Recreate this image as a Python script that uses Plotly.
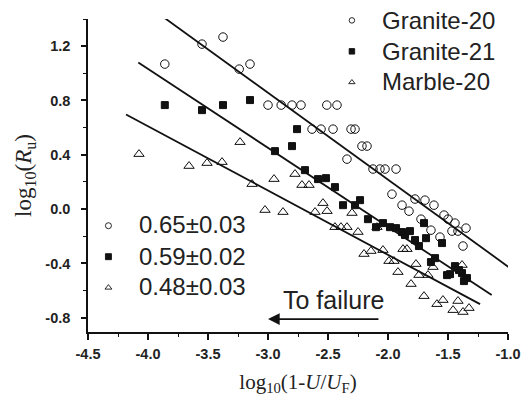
import plotly.graph_objects as go

# ---------------- data ----------------
g20_x = [-3.86, -3.55, -3.375, -3.24, -3.15, -3.0, -2.89, -2.8, -2.725, -2.51, -2.425,
         -2.633, -2.558, -2.458, -2.308, -2.275, -2.217, -2.175, -2.342, -2.125, -2.067,
         -2.025, -1.933, -1.967, -1.883, -1.825, -1.775, -1.692, -1.617, -1.533, -1.5,
         -1.725, -1.442, -1.35, -1.642, -1.467, -1.417, -1.567, -1.375]
g20_y = [1.068, 1.215, 1.267, 1.031, 1.068, 0.766, 0.766, 0.766, 0.766, 0.766, 0.766,
         0.589, 0.589, 0.589, 0.589, 0.589, 0.464, 0.464, 0.368, 0.295, 0.295,
         0.295, 0.295, 0.110, 0.029, -0.015, 0.074, 0.066, 0.029, -0.044, -0.074,
         -0.074, -0.103, -0.140, -0.155, -0.162, -0.162, -0.206, -0.272]

g21_x = [-3.86, -3.55, -3.375, -3.15, -2.758, -2.942, -2.8, -2.692, -2.583, -2.517,
         -2.442, -2.375, -2.233, -2.275, -2.167, -2.1, -2.042, -1.983, -1.933, -1.883,
         -1.858, -1.817, -1.775, -1.742, -1.7, -1.683, -1.55, -1.642, -1.608, -1.508,
         -1.483, -1.442, -1.408, -1.383, -1.342, -1.367]
g21_y = [0.766, 0.729, 0.766, 0.803, 0.589, 0.427, 0.464, 0.287, 0.221, 0.228,
         0.162, 0.029, 0.066, 0.029, -0.074, -0.133, -0.103, -0.133, -0.140, -0.169,
         -0.191, -0.162, -0.228, -0.272, -0.103, -0.214, -0.250, -0.390, -0.361, -0.486,
         -0.479, -0.420, -0.449, -0.471, -0.508, -0.530]

m20_x = [-4.075, -3.658, -3.508, -3.383, -3.233, -3.133, -2.95, -2.775, -3.025, -2.875,
         -2.717, -2.658, -2.542, -2.608, -2.508, -2.3, -2.442, -2.392, -2.342, -2.25,
         -2.092, -2.2, -2.142, -2.042, -1.992, -1.95, -1.875, -1.842, -1.917, -1.767,
         -1.625, -1.742, -1.667, -1.808, -1.383, -1.7, -1.592, -1.542, -1.417, -1.458,
         -1.375, -1.325]
m20_y = [0.405, 0.317, 0.339, 0.346, 0.493, 0.184, 0.221, 0.258, -0.007, -0.022,
         0.177, 0.177, 0.044, -0.022, -0.015, -0.029, -0.133, -0.133, -0.133, -0.169,
         -0.133, -0.331, -0.309, -0.302, -0.383, -0.383, -0.295, -0.295, -0.464, -0.405,
         -0.427, -0.486, -0.486, -0.552, -0.412, -0.641, -0.700, -0.670, -0.677, -0.744,
         -0.758, -0.729]

# fitted lines: start / end points (Granite-20, Granite-21, Marble-20)
fit_x0 = [-3.864, -4.081, -4.183]
fit_y0 = [1.409, 1.080, 0.697]
fit_x1 = [-0.928, -1.136, -1.233]
fit_y1 = [-0.469, -0.633, -0.700]

series_names = ["Granite-20", "Granite-21", "Marble-20"]
exponent_labels = ["0.65\u00b10.03", "0.59\u00b10.02", "0.48\u00b10.03"]

x_tick_vals = [-4.5, -4.0, -3.5, -3.0, -2.5, -2.0, -1.5, -1.0]
x_tick_text = ["-4.5", "-4.0", "-3.5", "-3.0", "-2.5", "-2.0", "-1.5", "-1.0"]
y_tick_vals = [-0.8, -0.4, 0.0, 0.4, 0.8, 1.2]
y_tick_text = ["-0.8", "-0.4", "0.0", "0.4", "0.8", "1.2"]

# ---------------- styles ----------------
SANS = "Liberation Sans, Arial, sans-serif"
SERIF = "Liberation Serif, Times New Roman, serif"
INK = "#111111"
TXT = "#222222"
symbols = ["circle-open", "square", "triangle-up-open"]
xs = [g20_x, g21_x, m20_x]
ys = [g20_y, g21_y, m20_y]
sizes = [8.5, 7, 9]

fig = go.Figure()

for i in range(3):
    fig.add_trace(go.Scatter(
        x=[fit_x0[i], fit_x1[i]], y=[fit_y0[i], fit_y1[i]], mode="lines",
        line=dict(color=INK, width=1.8), showlegend=False, hoverinfo="skip"))

for i in range(3):
    fig.add_trace(go.Scatter(
        x=xs[i], y=ys[i], mode="markers", showlegend=False, name=series_names[i],
        marker=dict(symbol=symbols[i], size=sizes[i], color=INK,
                    line=dict(color=INK, width=1.0))))

# legend symbols (labels are placed as annotations for exact sizing)
for i in range(3):
    fig.add_trace(go.Scatter(
        x=[None], y=[None], mode="markers", name=" ", legend="legend",
        marker=dict(symbol=symbols[i], size=5.5, color=INK, line=dict(color=INK, width=0.9))))
for i in range(3):
    fig.add_trace(go.Scatter(
        x=[None], y=[None], mode="markers", name=" ", legend="legend2",
        marker=dict(symbol=symbols[i], size=6, color=INK, line=dict(color=INK, width=0.9))))

legend_common = dict(font=dict(family=SANS, size=21.5, color=TXT),
                     bgcolor="rgba(0,0,0,0)", borderwidth=0, itemwidth=46,
                     xanchor="left", yanchor="top", tracegroupgap=0)

LABEL_SIZE = 24
annotations = []
leg1_y = [0.9946, 0.8956, 0.7997]
leg2_y = [0.3419, 0.2406, 0.1447]
for i in range(3):
    annotations.append(dict(x=0.6952, y=leg1_y[i], xref="paper", yref="paper",
                            xanchor="left", yanchor="middle", showarrow=False,
                            text=series_names[i], font=dict(family=SANS, size=LABEL_SIZE, color=TXT)))
    annotations.append(dict(x=0.116, y=leg2_y[i], xref="paper", yref="paper",
                            xanchor="left", yanchor="middle", showarrow=False,
                            text=exponent_labels[i], font=dict(family=SANS, size=LABEL_SIZE, color=TXT)))
annotations.append(dict(x=-2.458, y=-0.67, xref="x", yref="y", text="To failure", showarrow=False,
                        font=dict(family=SANS, size=25, color=TXT)))
annotations.append(dict(x=-3.0, y=-0.81, ax=-2.067, ay=-0.81, xref="x", yref="y", axref="x", ayref="y",
                        text="", showarrow=True, arrowhead=2, arrowsize=1.3, arrowwidth=1.8,
                        arrowcolor=INK))

fig.update_layout(
    width=531, height=397,
    margin=dict(l=88, r=23, t=19, b=65, autoexpand=False),
    paper_bgcolor="white", plot_bgcolor="white",
    showlegend=True,
    legend=dict(x=0.5617, y=1.061, **legend_common),
    legend2=dict(x=-0.018, y=0.405, **legend_common),
    xaxis=dict(
        range=[-4.5, -1.0], showgrid=False, zeroline=False, automargin=False,
        showline=True, linecolor=INK, linewidth=1.5,
        ticks="outside", ticklen=6, tickwidth=1.5, tickcolor=INK,
        tickmode="array", tickvals=x_tick_vals,
        ticktext=["<b>%s</b>" % t for t in x_tick_text],
        tickfont=dict(family=SANS, size=14.5, color=TXT),
        ticklabelstandoff=2,
        minor=dict(dtick=0.25, ticks="outside", ticklen=3.5, tickwidth=1.3, tickcolor=INK, showgrid=False),
        title=dict(text="log<sub>10</sub>(1-<i>U</i>/<i>U</i><sub>F</sub>)",
                   font=dict(family=SERIF, size=21, color=TXT), standoff=13),
    ),
    yaxis=dict(
        range=[-0.905, 1.40], showgrid=False, zeroline=False, automargin=False,
        showline=True, linecolor=INK, linewidth=1.5,
        ticks="outside", ticklen=5, tickwidth=1.5, tickcolor=INK,
        tickmode="array", tickvals=y_tick_vals,
        ticktext=["<b>%s</b>" % t for t in y_tick_text],
        tickfont=dict(family=SANS, size=14.5, color=TXT),
        ticklabelstandoff=8,
        minor=dict(dtick=0.2, ticks="outside", ticklen=3, tickwidth=1.3, tickcolor=INK, showgrid=False),
        title=dict(text="log<sub>10</sub>(<i>R</i><sub>u</sub>)",
                   font=dict(family=SERIF, size=23, color=TXT), standoff=7),
    ),
    annotations=annotations,
)

fig.write_html("out.html")
